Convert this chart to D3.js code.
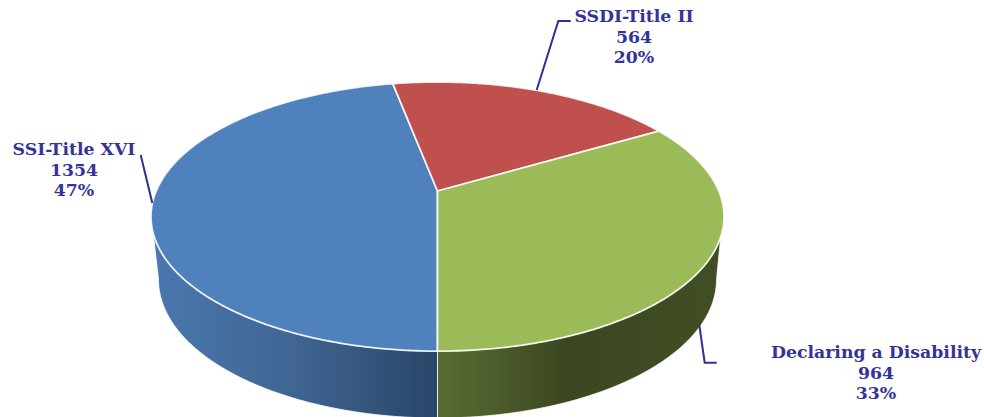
<!DOCTYPE html>
<html>
<head>
<meta charset="utf-8">
<script src="https://cdn.jsdelivr.net/npm/d3@7"></script>
<style>
  html, body { margin:0; padding:0; background:#fff; overflow:hidden; }
  text { font-family:"DejaVu Serif",serif; font-weight:bold; fill:#333399; }
</style>
</head>
<body>
<script>
var labels = ["SSI-Title XVI", "SSDI-Title II", "Declaring a Disability"];
var values = [1354, 564, 964];
var percents = ["47%", "20%", "33%"];
var topColors = ["#4f81bd", "#c0504d", "#9bbb59"];

var w = 984, h = 417;
var cx = 437.5, cy = 191, rx = 281.3, ry = 129.7, tilt = 0.19;
// the base rim is its own ellipse, a bit narrower than the top
var baseCy = 279.5, baseRx = 279, baseRy = 138.5;

var svg = d3.select("body").append("svg")
  .attr("width", w)
  .attr("height", h)
  .style("display", "block");

var defs = svg.append("defs");

// slices clockwise, first one starts straight down
var pie = d3.pie().sort(null).startAngle(Math.PI).endAngle(3 * Math.PI);
var arcs = pie(values);

// circle -> tilted ellipse, centre ends up behind the ellipse middle
function project(a) {
  var u = Math.sin(a),
      v = -Math.cos(a),
      z = 1 - tilt * v;
  return [cx + rx * u / z, cy + ry * v / z];
}

function steps(a0, a1) {
  var n = Math.ceil(Math.abs(a1 - a0) / 0.01);
  return d3.range(n + 1).map(function(i) { return a0 + (a1 - a0) * i / n; });
}

function topRim(a0, a1) {
  return steps(a0, a1).map(project);
}

function baseRim(a0, a1) {
  return steps(a0, a1).map(function(a) {
    return [cx + baseRx * Math.sin(a), baseCy - baseRy * Math.cos(a)];
  });
}

var line = d3.line();

// only blue and green show a side; top rim angle where the silhouette leaves it, base rim angle where it lands
var sides = [
  { id:"blue", topFrom:Math.PI, topTo:4.40, baseFrom:1.5 * Math.PI, baseTo:Math.PI,
    x1:152, x2:437.5, stops:[[0, "#4a78af"], [0.5, "#3f6592"], [1, "#2a4568"]] },
  { id:"green", topFrom:1.909, topTo:Math.PI, baseFrom:Math.PI, baseTo:Math.PI / 2,
    x1:437.5, x2:722, stops:[[0, "#596d33"], [0.45, "#3c4721"], [1, "#414e25"]] }
];

sides.forEach(function(s) {
  var grad = defs.append("linearGradient")
    .attr("id", "side-" + s.id)
    .attr("gradientUnits", "userSpaceOnUse")
    .attr("x1", s.x1).attr("x2", s.x2)
    .attr("y1", 0).attr("y2", 0);
  s.stops.forEach(function(c) {
    grad.append("stop").attr("offset", c[0]).attr("stop-color", c[1]);
  });
  svg.append("path")
    .attr("class", "side")
    .attr("d", line(topRim(s.topFrom, s.topTo).concat(baseRim(s.baseFrom, s.baseTo))) + "Z")
    .attr("fill", "url(#side-" + s.id + ")")
    .attr("stroke", "#fff")
    .attr("stroke-opacity", 0.8)
    .attr("stroke-width", 1);
});

// top faces
svg.selectAll(".slice")
  .data(arcs)
  .enter()
  .append("path")
  .attr("class", "slice")
  .attr("d", function(d) {
    return line([[cx, cy]].concat(topRim(d.startAngle, d.endAngle))) + "Z";
  })
  .attr("fill", function(d, i) { return topColors[i]; })
  .attr("stroke", "#fff")
  .attr("stroke-opacity", 0.85)
  .attr("stroke-width", 1.8)
  .attr("stroke-linejoin", "round");

// leader lines and labels
var leaderLines = [
  [[140.7, 155], [152.3, 203]],
  [[570.7, 21], [558.3, 21], [536.7, 90]],
  [[716.7, 362.7], [704.7, 362.7], [699.3, 325]]
];
var labelPos = [[74, 155], [634, 22], [876, 358]];

svg.selectAll(".leader")
  .data(leaderLines)
  .enter()
  .append("path")
  .attr("class", "leader")
  .attr("d", function(d) { return line(d); })
  .attr("fill", "none")
  .attr("stroke", "#2e3192")
  .attr("stroke-width", 2);

var fontSize = 17.3;
labels.forEach(function(name, i) {
  var t = svg.append("text")
    .attr("x", labelPos[i][0])
    .attr("y", labelPos[i][1])
    .attr("text-anchor", "middle")
    .style("font-size", fontSize + "px");
  [name, values[i], percents[i]].forEach(function(s, k) {
    t.append("tspan")
      .attr("x", labelPos[i][0])
      .attr("dy", k == 0 ? 0 : 20.7)
      .text(s);
  });
});
</script>
</body>
</html>
